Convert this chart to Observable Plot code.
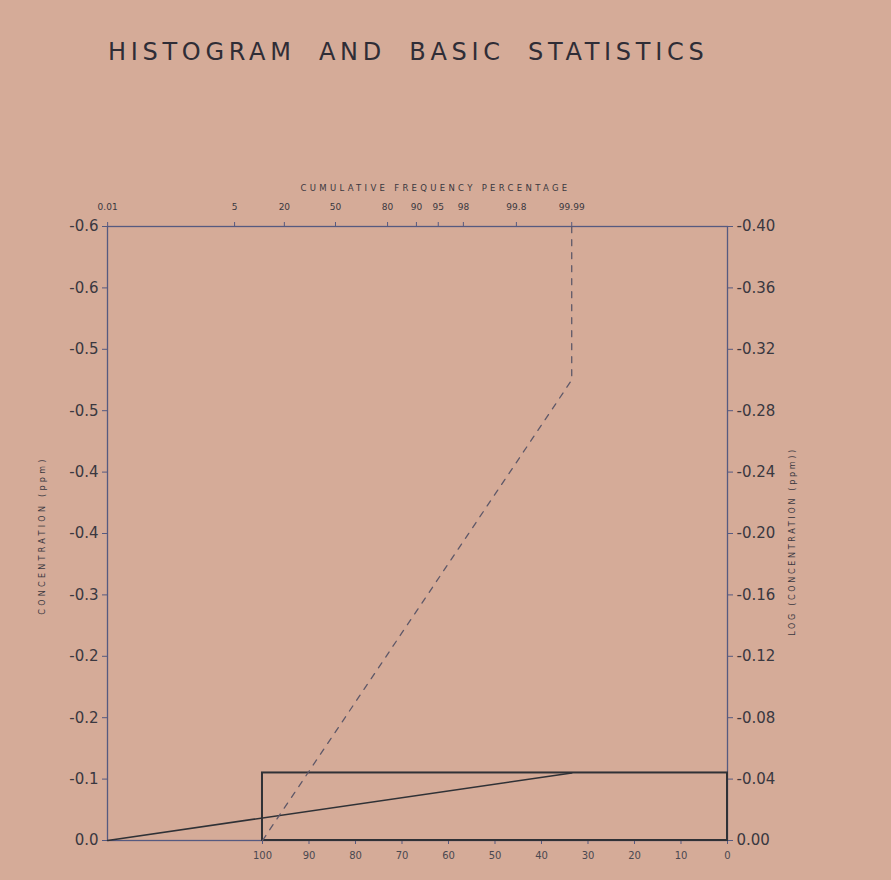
<!DOCTYPE html>
<html><head><meta charset="utf-8">
<script src="https://cdn.jsdelivr.net/npm/d3@7"></script>
<script src="https://cdn.jsdelivr.net/npm/@observablehq/plot@0.6"></script>
<style>
html,body{margin:0;padding:0;background:#d5ab98;width:891px;height:880px;overflow:hidden;}
#title{height:100px;box-sizing:border-box;padding-top:38px;padding-left:108px;font-family:"DejaVu Sans",sans-serif;font-size:24px;letter-spacing:4.7px;word-spacing:11px;color:#2f2d36;white-space:nowrap;}
</style></head><body>
<div id="title">HISTOGRAM AND BASIC STATISTICS</div>
<div id="chart"></div>
<script>
// bottom axis: frequency percentage (reversed)
const freqTicks = [100, 90, 80, 70, 60, 50, 40, 30, 20, 10, 0];
// right axis: log(concentration)
const logTicks = [0, 0.04, 0.08, 0.12, 0.16, 0.20, 0.24, 0.28, 0.32, 0.36, 0.40];
const logLabels = ["0.00", "-0.04", "-0.08", "-0.12", "-0.16", "-0.20", "-0.24", "-0.28", "-0.32", "-0.36", "-0.40"];
// left axis: concentration labels at the same ticks
const concLabels = ["0.0", "-0.1", "-0.2", "-0.2", "-0.3", "-0.4", "-0.4", "-0.5", "-0.5", "-0.6", "-0.6"];
// top axis: cumulative frequency percentage (probability scale), positions in bottom-axis units
const cumLabels = ["0.01", "5", "20", "50", "80", "90", "95", "98", "99.8", "99.99"];
const cumPos = [133.3, 106.0, 95.3, 84.3, 73.1, 66.9, 62.2, 56.8, 45.4, 33.5];
// histogram bin
const binLow = [0];
const binHigh = [0.044];
const binFreq = [100];
// cumulative frequency curve (probability position, log conc)
const cumCurveX = [133.3, 33.5];
const cumCurveY = [0, 0.044];
// fitted (dashed) line
const fitX = [100, 33.5, 33.5];
const fitY = [0, 0.30, 0.40];

const axisColor = "#565a80";
const textColor = "#3a3840";
const lineColor = "#2f3136";

const bins = binLow.map((lo, i) => ({lo, hi: binHigh[i], f: binFreq[i]}));
const cumCurve = cumCurveX.map((x, i) => ({x, y: cumCurveY[i]}));
const fit = fitX.map((x, i) => ({x, y: fitY[i]}));

const chart = Plot.plot({
  width: 891, height: 780,
  marginLeft: 107, marginRight: 164, marginTop: 126, marginBottom: 40,
  style: {background: "transparent", color: textColor, fontFamily: "DejaVu Sans, sans-serif"},
  x: {domain: [133.33, 0], axis: null},
  y: {domain: [0, 0.40], axis: null},
  marks: [
    Plot.frame({stroke: axisColor, strokeWidth: 1.3}),
    Plot.axisX({anchor: "bottom", ticks: freqTicks, tickSize: 4, tickPadding: 7, fontSize: 10, label: null, stroke: axisColor, color: "#4a4850"}),
    Plot.axisX({anchor: "top", ticks: cumPos, tickFormat: d => cumLabels[cumPos.indexOf(d)], tickSize: 5, tickPadding: 12, fontSize: 9, label: null, stroke: axisColor}),
    Plot.axisY({anchor: "left", ticks: logTicks, tickFormat: d => concLabels[logTicks.indexOf(d)], tickSize: 5, tickPadding: 4, fontSize: 15, label: null, stroke: axisColor}),
    Plot.axisY({anchor: "right", ticks: logTicks, tickFormat: d => logLabels[logTicks.indexOf(d)], tickSize: 5, tickPadding: 4, fontSize: 15, label: null, stroke: axisColor}),
    Plot.text(["CUMULATIVE FREQUENCY PERCENTAGE"], {frameAnchor: "top", textAnchor: "middle", dx: 18, dy: -42, fontSize: 8.5, fill: textColor}),
    Plot.text(["CONCENTRATION (ppm)"], {frameAnchor: "left", textAnchor: "middle", rotate: -90, dx: -65, dy: 2, fontSize: 8, fill: textColor}),
    Plot.text(["LOG (CONCENTRATION (ppm))"], {frameAnchor: "right", textAnchor: "middle", rotate: -90, dx: 65, dy: 8, fontSize: 8, fill: textColor}),
    Plot.rect(bins, {x1: "f", x2: 0, y1: "lo", y2: "hi", fill: "none", stroke: lineColor, strokeWidth: 2}),
    Plot.line(cumCurve, {x: "x", y: "y", stroke: lineColor, strokeWidth: 1.6}),
    Plot.line(fit, {x: "x", y: "y", stroke: "#5f5868", strokeWidth: 1.3, strokeDasharray: "6,7"})
  ]
});
document.getElementById("chart").appendChild(chart);
d3.select(chart).selectAll("text").each(function() {
  const t = this.textContent;
  if (t === "CUMULATIVE FREQUENCY PERCENTAGE") d3.select(this).style("letter-spacing", "3.3px");
  if (t === "CONCENTRATION (ppm)") d3.select(this).style("letter-spacing", "3.3px");
  if (t === "LOG (CONCENTRATION (ppm))") d3.select(this).style("letter-spacing", "2.7px");
});
</script>
</body></html>
